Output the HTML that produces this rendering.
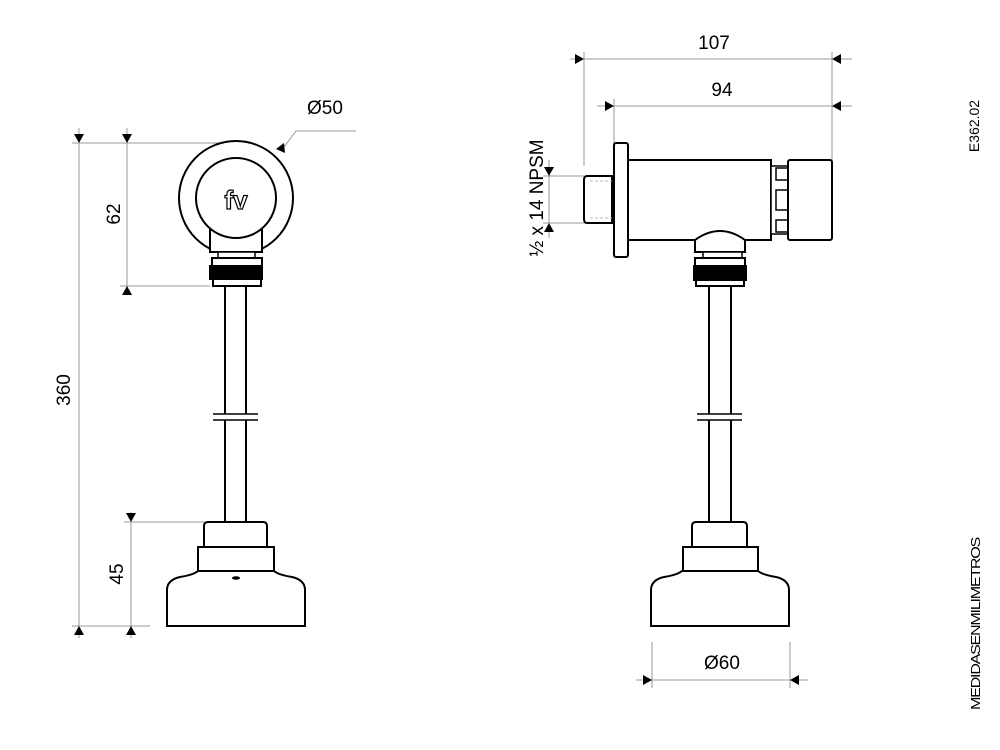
<!DOCTYPE html>
<html><head><meta charset="utf-8"><style>
html,body{margin:0;padding:0;background:#fff;width:1000px;height:750px;overflow:hidden}
svg{display:block}
text{font-family:"Liberation Sans",sans-serif;fill:#000}
</style></head><body>
<svg width="1000" height="750" viewBox="0 0 1000 750" xmlns="http://www.w3.org/2000/svg">
<g stroke="#999" stroke-width="1" fill="none">
<line x1="570" y1="59" x2="852" y2="59"/>
<line x1="584" y1="52" x2="584" y2="166"/>
<line x1="832" y1="52" x2="832" y2="160"/>
<line x1="597" y1="106" x2="852" y2="106"/>
<line x1="614" y1="99" x2="614" y2="143"/>
<line x1="549" y1="160" x2="549" y2="238"/>
<line x1="543" y1="176" x2="584" y2="176"/>
<line x1="543" y1="223" x2="584" y2="223"/>
<line x1="127" y1="128" x2="127" y2="295"/>
<line x1="120" y1="143" x2="222" y2="143"/>
<line x1="120" y1="286" x2="210" y2="286"/>
<line x1="79" y1="128" x2="79" y2="638"/>
<line x1="72" y1="143" x2="120" y2="143"/>
<line x1="72" y1="626" x2="150" y2="626"/>
<line x1="131" y1="512" x2="131" y2="638"/>
<line x1="124" y1="522" x2="204" y2="522"/>
<line x1="636" y1="680" x2="808" y2="680"/>
<line x1="652" y1="642" x2="652" y2="688"/>
<line x1="790" y1="642" x2="790" y2="688"/>
<polyline points="281,151 296,131 356,131"/>
</g>
<g fill="#000">
<path d="M575,54 L584,59 L575,64Z"/><path d="M841,54 L832,59 L841,64Z"/>
<path d="M605,101 L614,106 L605,111Z"/><path d="M841,101 L832,106 L841,111Z"/>
<path d="M544,167 L549,176 L554,167Z"/><path d="M544,232 L549,223 L554,232Z"/>
<path d="M122,134 L127,143 L132,134Z"/><path d="M122,295 L127,286 L132,295Z"/>
<path d="M74,134 L79,143 L84,134Z"/><path d="M74,635 L79,626 L84,635Z"/>
<path d="M126,513 L131,522 L136,513Z"/><path d="M126,635 L131,626 L136,635Z"/>
<path d="M643,675 L652,680 L643,685Z"/><path d="M799,675 L790,680 L799,685Z"/>
<path d="M276,149 L284,143 L285,153Z"/>
</g>
<g font-size="19">
<text x="714" y="49" text-anchor="middle">107</text>
<text x="722" y="96" text-anchor="middle">94</text>
<text x="325" y="114" text-anchor="middle">Ø50</text>
<text x="722" y="669" text-anchor="middle">Ø60</text>
<text transform="translate(120,214) rotate(-90)" text-anchor="middle">62</text>
<text transform="translate(70,390) rotate(-90)" text-anchor="middle">360</text>
<text transform="translate(123,574) rotate(-90)" text-anchor="middle">45</text>
<text transform="translate(543,198) rotate(-90)" text-anchor="middle">½ x 14 NPSM</text>
</g>
<text transform="translate(979,126) rotate(-90)" text-anchor="middle" font-size="14">E362.02</text>
<text transform="translate(980,624) rotate(-90)" text-anchor="middle" font-size="13" textLength="172" lengthAdjust="spacingAndGlyphs" letter-spacing="-1">MEDIDASENMILIMETROS</text>

<g stroke="#000" stroke-width="2" fill="#fff">
<circle cx="236" cy="198" r="57"/>
<rect x="210" y="230" width="52" height="22"/>
<circle cx="236" cy="198" r="40"/>
<rect x="218" y="252" width="37" height="6" stroke-width="1.5"/>
<rect x="212" y="258" width="50" height="8"/>
<rect x="210" y="266" width="52" height="13" fill="#000"/>
<rect x="213" y="279" width="48" height="7"/>
<line x1="225" y1="286" x2="225" y2="414"/><line x1="246" y1="286" x2="246" y2="414"/>
<line x1="225" y1="420" x2="225" y2="522"/><line x1="246" y1="420" x2="246" y2="522"/>
<line x1="213" y1="414" x2="258" y2="414" stroke-width="1.5"/>
<line x1="213" y1="420" x2="258" y2="420" stroke-width="1.5"/>
<path d="M204,547 L204,526 Q204,522 208,522 L263,522 Q267,522 267,526 L267,547Z"/>
<rect x="198" y="547" width="76" height="24"/>
<path d="M167,626 L167,590 Q167,580 180,577 Q193,575 198,571 L274,571 Q279,575 292,577 Q305,580 305,590 L305,626Z"/>
<ellipse cx="236" cy="578" rx="4" ry="1.8" fill="#000" stroke="none"/>

<path d="M587,176 L612,176 L612,223 L587,223 Q584,223 584,219 L584,180 Q584,176 587,176Z"/>
<rect x="614" y="143" width="14" height="114" rx="2"/>
<rect x="628" y="160" width="143" height="80"/>
<rect x="771" y="166" width="17" height="68" stroke-width="1.5"/>
<rect x="776" y="168" width="12" height="12" stroke-width="1.5"/>
<rect x="776" y="190" width="12" height="20" stroke-width="1.5"/>
<rect x="776" y="220" width="12" height="12" stroke-width="1.5"/>
<rect x="788" y="160" width="44" height="80" rx="2"/>
<path d="M695,252 L695,240 Q720,222 745,240 L745,252Z"/>
<rect x="703" y="252" width="39" height="6" stroke-width="1.5"/>
<rect x="695" y="258" width="50" height="8"/>
<rect x="694" y="266" width="52" height="14" fill="#000"/>
<rect x="696" y="280" width="48" height="6"/>
<line x1="709" y1="286" x2="709" y2="414"/><line x1="731" y1="286" x2="731" y2="414"/>
<line x1="709" y1="420" x2="709" y2="522"/><line x1="731" y1="420" x2="731" y2="522"/>
<line x1="697" y1="414" x2="742" y2="414" stroke-width="1.5"/>
<line x1="697" y1="420" x2="742" y2="420" stroke-width="1.5"/>
<path d="M692,547 L692,526 Q692,522 696,522 L743,522 Q747,522 747,526 L747,547Z"/>
<rect x="683" y="547" width="75" height="24"/>
<path d="M651,626 L651,590 Q651,580 664,577 Q677,575 682,571 L758,571 Q763,575 776,577 Q789,580 789,590 L789,626Z"/>
</g>
<g stroke="#bbb" stroke-width="1" stroke-dasharray="3,2">
<line x1="590" y1="181" x2="612" y2="181"/><line x1="590" y1="218" x2="612" y2="218"/>
</g>
<text x="236" y="209" text-anchor="middle" font-size="26" font-weight="bold" style="fill:#fff" stroke="#000" stroke-width="1.2">fv</text>
</svg>
</body></html>
